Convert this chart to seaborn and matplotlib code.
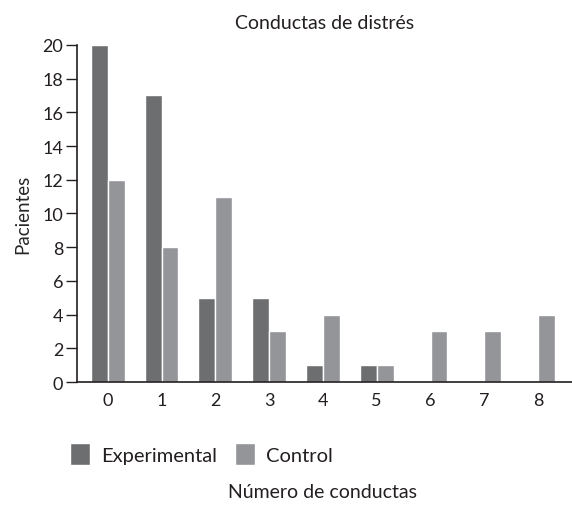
import matplotlib
matplotlib.use("Agg")
import matplotlib.pyplot as plt
import seaborn as sns
import pandas as pd

# data
categories = ["0", "1", "2", "3", "4", "5", "6", "7", "8"]
experimental = [20, 17, 5, 5, 1, 1, 0, 0, 0]
control = [12, 8, 11, 3, 4, 1, 3, 3, 4]
groups = ["Experimental", "Control"]

df = pd.DataFrame({
    "conductas": categories * 2,
    "pacientes": experimental + control,
    "grupo": [groups[0]] * len(categories) + [groups[1]] * len(categories),
})

sns.set_theme(style="ticks")
plt.rcParams["font.family"] = ["Lato", "DejaVu Sans"]
plt.rcParams["text.color"] = "#231f20"

fig = plt.figure(figsize=(5.72, 5.10), dpi=100)
ax = fig.add_axes([0.135, 0.249, 0.865, 0.661])

sns.barplot(data=df, x="conductas", y="pacientes", hue="grupo",
            hue_order=groups, palette=["#6d6e70", "#939598"],
            saturation=1, width=0.63, ax=ax)

ax.set_xlim(-0.567, 8.63)
ax.set_ylim(0, 20)
ax.set_yticks(range(0, 21, 2))
ax.tick_params(axis="y", length=8, width=1, labelsize=13, color="#231f20",
               labelcolor="#231f20", pad=2)
ax.tick_params(axis="x", length=0, labelsize=13, labelcolor="#231f20", pad=7)
for s in ["top", "right"]:
    ax.spines[s].set_visible(False)
for s in ["left", "bottom"]:
    ax.spines[s].set_color("#231f20")
    ax.spines[s].set_linewidth(1.2)

ax.set_xlabel("")
ax.set_ylabel("Pacientes", fontsize=13.5, labelpad=8)
ax.set_title("Conductas de distrés", fontsize=14, pad=12)

# legend sits below the axes, squares as handles
handles, labels = ax.get_legend_handles_labels()
ax.get_legend().remove()
fig.legend(handles, labels, loc="center left", bbox_to_anchor=(0.09, 0.108),
           ncol=2, frameon=False, fontsize=14.5, handlelength=1.0, handleheight=1.3,
           handletextpad=0.55, columnspacing=0.9)

fig.text(0.563, 0.035, "Número de conductas", ha="center", va="center", fontsize=14)

fig.savefig("out.png", dpi=100)
